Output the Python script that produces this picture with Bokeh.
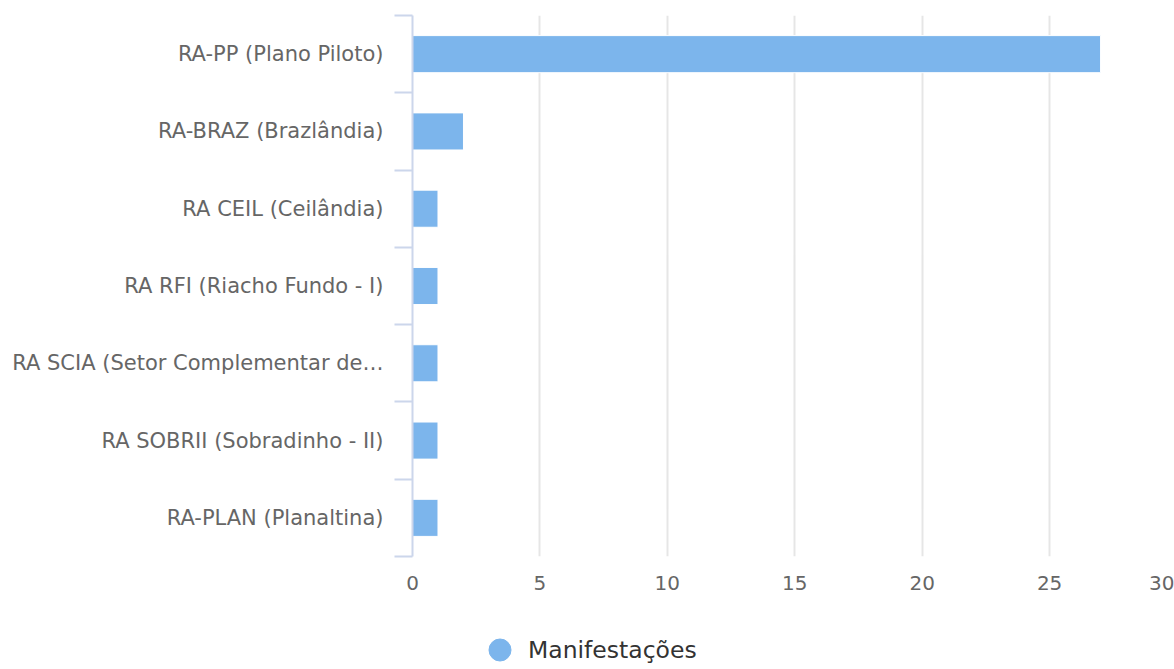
from bokeh.plotting import figure
from bokeh.models import Range1d, FixedTicker
from bokeh.layouts import column
from bokeh.embed import file_html
from bokeh.resources import INLINE

categories = [
    "RA-PP (Plano Piloto)",
    "RA-BRAZ (Brazlândia)",
    "RA CEIL (Ceilândia)",
    "RA RFI (Riacho Fundo - I)",
    "RA SCIA (Setor Complementar de…",
    "RA SOBRII (Sobradinho - II)",
    "RA-PLAN (Planaltina)",
]
values = [27, 2, 1, 1, 1, 1, 1]
x_ticks = [0, 5, 10, 15, 20, 25, 30]
series_name = "Manifestações"

FONT = "DejaVu Sans"
BAR = "#7cb5ec"
X_END = 29.9  # visible part of the 0..30 axis

n = len(categories)
centers = [i + 0.5 for i in range(n)]
bounds = list(range(n + 1))

p = figure(
    width=1174, height=600,
    output_backend="svg", toolbar_location=None,
    x_range=Range1d(0, X_END), y_range=Range1d(n, 0),
    min_border_left=412, min_border_right=0, min_border_top=15, min_border_bottom=44,
)
p.frame_width = 762
p.frame_height = 541
p.outline_line_color = None
p.background_fill_color = "white"

p.hbar(y=centers, right=values, left=0, height=0.48,
       fill_color=BAR, line_color="white", line_width=1)

# x axis (last label justified inside the chart edge, as in the original)
last_pos = X_END - 0.45
xa = p.xaxis[0]
xa.ticker = FixedTicker(ticks=x_ticks[:-1] + [last_pos])
xa.major_label_overrides = {last_pos: str(x_ticks[-1])}
xa.axis_line_color = None
xa.major_tick_line_color = None
xa.minor_tick_line_color = None
xa.major_tick_out = 0
xa.major_tick_in = 0
xa.minor_tick_out = 0
xa.major_label_text_font = FONT
xa.major_label_text_font_size = "20px"
xa.major_label_text_color = "#666666"
xa.major_label_standoff = 19

# y axis
ya = p.yaxis[0]
ya.ticker = FixedTicker(ticks=centers, minor_ticks=bounds)
ya.major_label_overrides = {c: lab for c, lab in zip(centers, categories)}
ya.axis_line_color = "#ccd6eb"
ya.axis_line_width = 2
ya.major_tick_line_color = None
ya.major_tick_out = 0
ya.major_tick_in = 0
ya.minor_tick_line_color = "#ccd6eb"
ya.minor_tick_line_width = 2
ya.minor_tick_out = 18
ya.minor_tick_in = 0
ya.major_label_text_font = FONT
ya.major_label_text_font_size = "21px"
ya.major_label_text_color = "#666666"
ya.major_label_standoff = 11

p.xgrid.ticker = FixedTicker(ticks=x_ticks)
p.xgrid.grid_line_color = "#e6e6e6"
p.xgrid.grid_line_width = 2
p.ygrid.grid_line_color = None

# legend strip below the chart (series points lie outside its empty view)
q = figure(
    width=1174, height=69,
    output_backend="svg", toolbar_location=None,
    x_range=Range1d(-1, 0), y_range=Range1d(0, 1),
    min_border_left=0, min_border_right=0, min_border_top=0, min_border_bottom=0,
)
q.axis.visible = False
q.grid.grid_line_color = None
q.outline_line_color = None
q.scatter(x=values, y=centers, marker="circle", size=22,
          fill_color=BAR, line_color=BAR, legend_label=series_name)
lg = q.legend[0]
lg.location = (60, -8)
lg.glyph_width = 55
lg.glyph_height = 55
lg.label_height = 55
lg.label_standoff = 1
lg.padding = 0
lg.margin = 0
lg.spacing = 0
lg.border_line_color = None
lg.background_fill_alpha = 0
lg.label_text_font = FONT
lg.label_text_font_size = "23.5px"
lg.label_text_color = "#333333"
lg.label_text_baseline = "middle"

open("out.html", "w").write(file_html(column(p, q, spacing=0), INLINE))
